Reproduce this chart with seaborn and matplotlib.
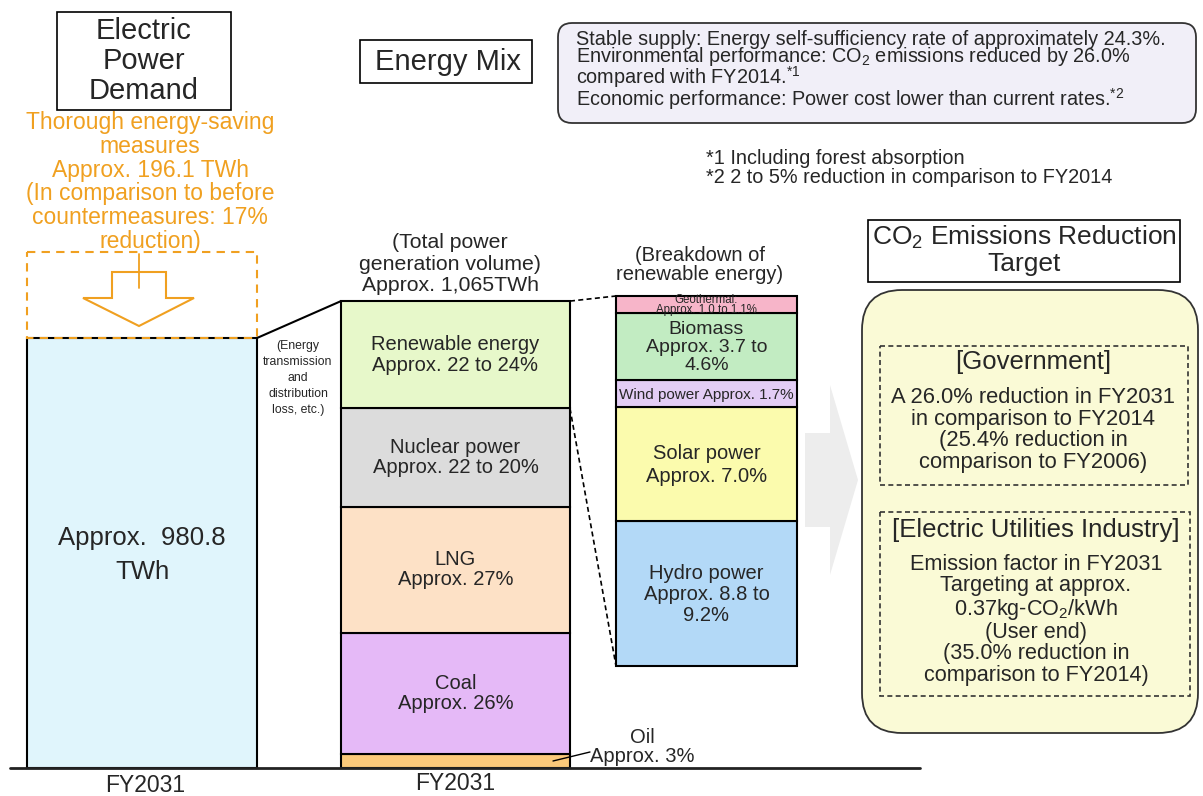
import numpy as np
import matplotlib
matplotlib.use("Agg")
import matplotlib.pyplot as plt
from matplotlib.patches import Rectangle, FancyBboxPatch, Polygon
import seaborn as sns

# values
demand_twh = 980.8
saving_twh = 196.1
generation_twh = 1065

mix_names = ["Oil", "Coal", "LNG", "Nuclear power", "Renewable energy"]
mix_share = [3, 26, 27, 21, 23]
mix_labels = ["", "Coal\nApprox. 26%", "LNG\nApprox. 27%",
              "Nuclear power\nApprox. 22 to 20%", "Renewable energy\nApprox. 22 to 24%"]

renew_names = ["Hydro power", "Solar power", "Wind power", "Biomass", "Geothermal"]
renew_share = [9.0, 7.0, 1.7, 4.15, 1.05]
renew_labels = ["Hydro power\nApprox. 8.8 to\n9.2%", "Solar power\nApprox. 7.0%",
                "Wind power Approx. 1.7%", "Biomass\nApprox. 3.7 to\n4.6%",
                "Geothermal:\nApprox. 1.0 to 1.1%"]

mix_colors = ["#fbc97a", "#e5b9f7", "#fde1c6", "#dcdcdc", "#e7f8ca"]
renew_colors = ["#b3d9f7", "#fbfbad", "#e3cdf5", "#c2ecc2", "#f7b5c9"]
renew_fs = [14.5, 14.5, 11, 14, 8.3]
renew_ls = [1.12, 1.22, 1.0, 1.05, 0.78]

ORANGE = "#f0a020"

sns.set_theme(style="white")
plt.rcParams["font.family"] = ["Liberation Sans", "DejaVu Sans"]
plt.rcParams["mathtext.fontset"] = "custom"
plt.rcParams["mathtext.rm"] = "Liberation Sans"
plt.rcParams["mathtext.it"] = "Liberation Sans:italic"
plt.rcParams["mathtext.bf"] = "Liberation Sans:bold"

fig = plt.figure(figsize=(12.03, 7.96), dpi=100)
ax = fig.add_axes([0, 0, 1, 1])
ax.set_xlim(0, 1203)
ax.set_ylim(796, 0)
ax.axis("off")

base = 768
k = 430 / demand_twh  # px per TWh

# ---- electric power demand ----
dem_h = demand_twh * k
dem_top = base - dem_h
ax.bar(142, dem_h, bottom=dem_top, width=230, color="#e0f5fc",
       edgecolor="black", linewidth=1.5, zorder=2)
sav_h = saving_twh * k
ax.bar(142, sav_h, bottom=dem_top - sav_h, width=230, fill=False,
       edgecolor=ORANGE, linestyle=(0, (4, 3)), linewidth=1.5, zorder=2)
ax.text(142, 555, "Approx.  980.8\nTWh", ha="center", va="center",
        fontsize=18.5, linespacing=1.5)

arrow = Polygon([(112, 272), (166, 272), (166, 298), (194, 298), (139, 326),
                 (83, 298), (112, 298)], closed=True, fill=False,
                edgecolor=ORANGE, linewidth=1.5)
ax.add_patch(arrow)
ax.plot([139, 139], [254, 288], color=ORANGE, lw=1.3)

ax.add_patch(Rectangle((57, 12), 174, 98, fc="white", ec="black", lw=1.2))
ax.text(144, 61, "Electric\nPower\nDemand", ha="center", va="center",
        fontsize=21, linespacing=1.1)
ax.text(150, 182, "Thorough energy-saving\nmeasures\nApprox. 196.1 TWh\n"
        "(In comparison to before\ncountermeasures: 17%\nreduction)",
        ha="center", va="center", fontsize=16.5, color=ORANGE, linespacing=1.04)

# ---- generation mix ----
mix_x, mix_w = 455.5, 229
mix_h = np.array(mix_share) / 100 * generation_twh * k
mix_bottom = base - np.cumsum(mix_h)
ax.bar(mix_x, mix_h, bottom=mix_bottom, width=mix_w, color=mix_colors,
       edgecolor="black", linewidth=1.5, zorder=2)
for lab, b, h in zip(mix_labels, mix_bottom, mix_h):
    if lab:
        ax.text(mix_x, b + h / 2, lab, ha="center", va="center",
                fontsize=14.5, linespacing=1.1, zorder=3)
gen_top = mix_bottom[-1]

ax.text(642, 747, "Oil\nApprox. 3%", ha="center", va="center",
        fontsize=14.5, linespacing=1.05)
ax.plot([553, 590], [mix_bottom[0] + mix_h[0] / 2, 752], color="black", lw=1)

ax.plot([257, 341], [dem_top, gen_top], color="black", lw=1.5)
ax.text(298, 378, "(Energy\ntransmission\nand\ndistribution\nloss, etc.)",
        ha="center", va="center", fontsize=8.8, linespacing=1.45)
ax.text(450, 264, "(Total power\ngeneration volume)\nApprox. 1,065TWh",
        ha="center", va="center", fontsize=15.3, linespacing=1.15)

# ---- renewable breakdown ----
ren_x, ren_w = 706.5, 181
ren_base, ren_topy = 666, 296
k2 = (ren_base - ren_topy) / sum(renew_share)
ren_h = np.array(renew_share) * k2
ren_bottom = ren_base - np.cumsum(ren_h)
ax.bar(ren_x, ren_h, bottom=ren_bottom, width=ren_w, color=renew_colors,
       edgecolor="black", linewidth=1.5, zorder=2)
for lab, b, h, fs, ls in zip(renew_labels, ren_bottom, ren_h, renew_fs, renew_ls):
    ax.text(ren_x, b + h / 2 + 1, lab, ha="center", va="center",
            fontsize=fs, linespacing=ls, zorder=3)
ax.text(700, 265, "(Breakdown of\nrenewable energy)", ha="center",
        va="center", fontsize=14.5, linespacing=1.05)

ren_seg_low = mix_bottom[-1] + mix_h[-1]
ax.plot([mix_x + mix_w / 2, ren_x - ren_w / 2], [gen_top, ren_bottom[-1]],
        color="black", lw=1.2, linestyle=(0, (3, 2)))
ax.plot([mix_x + mix_w / 2, ren_x - ren_w / 2], [ren_seg_low, ren_base],
        color="black", lw=1.2, linestyle=(0, (3, 2)))

# ground line and year labels
ax.plot([10, 920], [base, base], color="#222222", lw=2, zorder=3)
ax.text(145, 786, "FY2031", ha="center", va="center", fontsize=16.5)
ax.text(455, 783, "FY2031", ha="center", va="center", fontsize=16.5)

# ---- energy mix header ----
ax.add_patch(Rectangle((360, 40), 172, 43, fc="white", ec="black", lw=1.2))
ax.text(448, 62, "Energy Mix", ha="center", va="center", fontsize=21)

ax.add_patch(FancyBboxPatch((558, 23), 638, 100,
                            boxstyle="round,pad=0,rounding_size=14",
                            fc="#f1eff8", ec="#333333", lw=1.3))
top_text = ("Stable supply: Energy self-sufficiency rate of approximately 24.3%.\n"
            "Environmental performance: CO$_2$ emissions reduced by 26.0%\n"
            "compared with FY2014.$^{*1}$\n"
            "Economic performance: Power cost lower than current rates.$^{*2}$")
ax.text(576, 71, top_text, ha="left", va="center", fontsize=14.3,
        linespacing=0.79)

ax.text(706, 168, "*1 Including forest absorption\n"
        "*2 2 to 5% reduction in comparison to FY2014", ha="left",
        va="center", fontsize=14.3, linespacing=1.05)

# ---- CO2 target ----
ax.add_patch(Polygon([(805, 433), (830, 433), (830, 385), (858, 480),
                      (830, 575), (830, 527), (805, 527)], closed=True,
                     fc="#ededed", ec="none"))
ax.add_patch(Rectangle((868, 220), 312, 62, fc="white", ec="black", lw=1.2))
ax.text(1024, 250, "CO$_2$ Emissions Reduction\nTarget", ha="center",
        va="center", fontsize=19, linespacing=1.05)
ax.add_patch(FancyBboxPatch((862, 290), 336, 443,
                            boxstyle="round,pad=0,rounding_size=40",
                            fc="#fafad6", ec="#333333", lw=1.3))
ax.add_patch(Rectangle((880, 346), 308, 139, fill=False, ec="#333333",
                       lw=1.2, linestyle=(0, (3, 2))))
ax.add_patch(Rectangle((880, 512), 310, 184, fill=False, ec="#333333",
                       lw=1.2, linestyle=(0, (3, 2))))
ax.text(1033, 362, "[Government]", ha="center", va="center", fontsize=18.5)
ax.text(1033, 430, "A 26.0% reduction in FY2031\nin comparison to FY2014\n"
        "(25.4% reduction in\ncomparison to FY2006)",
        ha="center", va="center", fontsize=15.8, linespacing=1.05)
ax.text(1036, 530, "[Electric Utilities Industry]", ha="center",
        va="center", fontsize=18.5)
ax.text(1036, 620, "Emission factor in FY2031\nTargeting at approx.\n"
        "0.37kg-CO$_2$/kWh\n(User end)\n(35.0% reduction in\n"
        "comparison to FY2014)",
        ha="center", va="center", fontsize=15.6, linespacing=1.02)

fig.savefig("out.png", dpi=100)
